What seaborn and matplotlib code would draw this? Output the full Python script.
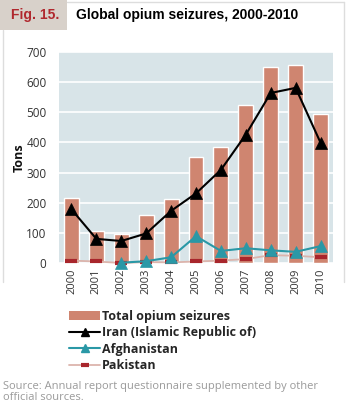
import numpy as np
import pandas as pd
import seaborn as sns
import matplotlib.pyplot as plt
from matplotlib.patches import Patch, Rectangle
from matplotlib.lines import Line2D

years = [str(y) for y in range(2000, 2011)]
total = [215, 107, 97, 159, 213, 350, 386, 525, 650, 657, 495]
iran = [178, 80, 73, 98, 173, 231, 309, 426, 564, 581, 399]
afghanistan = [np.nan, np.nan, 1, 6, 19, 89, 40, 49, 42, 37, 56]
pakistan = [8, 5, 0, 3, 2, 5, 8, 13, 26, 24, 19]

bar_color = "#cf8570"
teal = "#2a98a6"
pak_line = "#dcb4ac"
pak_mark = "#a8262c"

def main():
    sns.set_theme(style="white")
    plt.rcParams["font.family"] = ["Open Sans", "DejaVu Sans"]

    fig = plt.figure(figsize=(3.5, 4.08), dpi=100)
    W, H = 350, 408
    ax = fig.add_axes([59 / W, 1 - 263 / H, 274 / W, 211 / H])
    ax.set_facecolor("#d8e4e8")

    df = pd.DataFrame({"year": years, "total": total, "iran": iran,
                       "afg": afghanistan, "pak": pakistan})

    sns.barplot(data=df, x="year", y="total", color=bar_color, width=0.6,
                saturation=1, ax=ax, zorder=2)
    sns.pointplot(data=df, x="year", y="pak", color=pak_line, marker="_",
                  markersize=8, markeredgewidth=3, linewidth=1.3,
                  errorbar=None, ax=ax)
    pak = ax.lines[-1]
    pak.set_markeredgecolor(pak_mark)
    pak.set_markerfacecolor(pak_mark)
    sns.pointplot(data=df, x="year", y="afg", color=teal, marker="^",
                  markersize=8.5, markeredgewidth=0.5, linewidth=1.5,
                  errorbar=None, ax=ax)
    sns.pointplot(data=df, x="year", y="iran", color="black", marker="^",
                  markersize=8.5, markeredgewidth=0.5, linewidth=1.5,
                  errorbar=None, ax=ax)
    for ln in ax.lines:
        ln.set_clip_on(False)
        ln.set_zorder(4)

    ax.set_xlim(-0.5, 10.5)
    ax.set_ylim(0, 700)
    ax.set_yticks(range(0, 701, 100))
    ax.yaxis.grid(True, color="white", linewidth=1.2, zorder=0)
    ax.set_axisbelow(True)
    for s in ax.spines.values():
        s.set_visible(False)
    ax.tick_params(axis="both", length=0, colors="#333333")
    ax.tick_params(axis="y", labelsize=8.5, pad=9)
    ax.tick_params(axis="x", labelsize=8, rotation=90, pad=4)
    ax.set_xlabel("")
    ax.set_ylabel("Tons", fontsize=9, fontweight="bold", labelpad=0, color="#111111")

    # frame and title box
    fig.add_artist(Line2D([3 / W, 3 / W], [1 - 30 / H, 1 - 282 / H], color="#dddddd", lw=1))
    fig.add_artist(Line2D([67 / W, 344 / W], [1 - 2 / H, 1 - 2 / H], color="#dddddd", lw=1))
    fig.add_artist(Line2D([344 / W, 344 / W], [1 - 2 / H, 1 - 282 / H], color="#dddddd", lw=1))
    fig.add_artist(Rectangle((0, 1 - 30 / H), 67 / W, 30 / H, transform=fig.transFigure,
                             facecolor="#d8d1ca", edgecolor="none"))
    fig.text(35 / W, 1 - 15 / H, "Fig. 15.", color="#b0282e", fontsize=10,
             fontweight="bold", ha="center", va="center", family="Liberation Sans")
    fig.text(76 / W, 1 - 15 / H, "Global opium seizures, 2000-2010", color="black",
             fontsize=10, fontweight="bold", ha="left", va="center", family="Liberation Sans")

    handles = [
        Patch(facecolor=bar_color, edgecolor="none"),
        Line2D([], [], color="black", marker="^", markersize=5.5, lw=1.5),
        Line2D([], [], color=teal, marker="^", markersize=5.5, lw=1.5),
        Line2D([], [], color=pak_line, marker="_", markersize=6, markeredgewidth=3,
               markeredgecolor=pak_mark, lw=1.3),
    ]
    labels = ["Total opium seizures", "Iran (Islamic Republic of)", "Afghanistan", "Pakistan"]
    fig.legend(handles, labels, loc="upper left", bbox_to_anchor=(69 / W, 1 - 310 / H),
               frameon=False, handlelength=2.5, handletextpad=0.12, labelspacing=0.27,
               borderaxespad=0, borderpad=0, prop={"weight": "bold", "size": 9})

    fig.text(3 / W, 1 - 392 / H,
             "Source: Annual report questionnaire supplemented by other\nofficial sources.",
             color="#9a9a9a", fontsize=8, ha="left", va="center", linespacing=0.95)

    fig.savefig("out.png", dpi=100)

if __name__ == "__main__":
    main()
